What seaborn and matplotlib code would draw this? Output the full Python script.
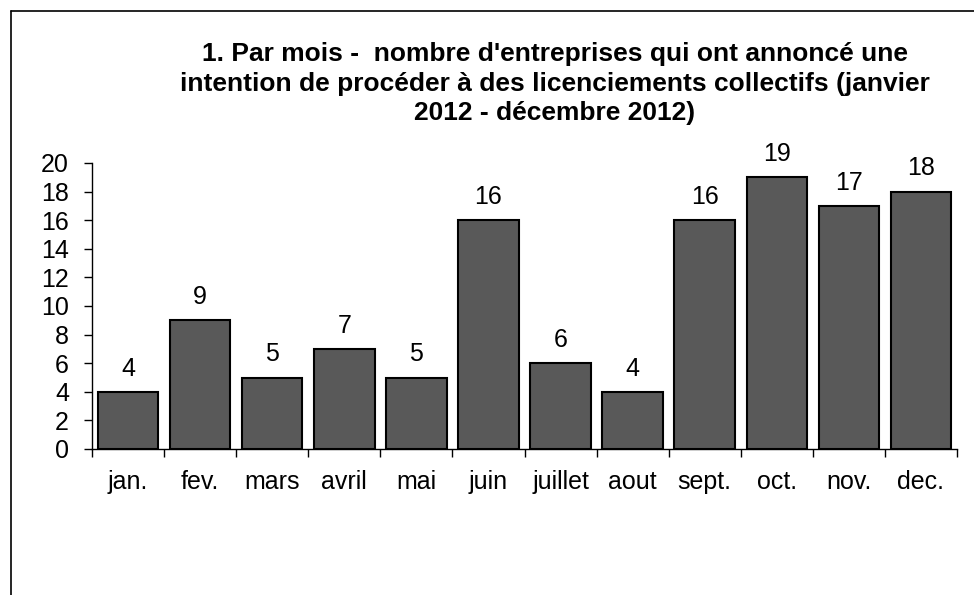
import matplotlib
matplotlib.use("Agg")
import matplotlib.pyplot as plt
import seaborn as sns
import pandas as pd
import numpy as np
from matplotlib.lines import Line2D

months = ["jan.", "fev.", "mars", "avril", "mai", "juin", "juillet", "aout",
          "sept.", "oct.", "nov.", "dec."]
counts = [4, 9, 5, 7, 5, 16, 6, 4, 16, 19, 17, 18]
yticks = list(range(0, 21, 2))
title = ("1. Par mois -  nombre d'entreprises qui ont annoncé une\n"
         "intention de procéder à des licenciements collectifs (janvier\n"
         "2012 - décembre 2012)")

sns.set_style("white")
plt.rcParams['font.family'] = ['Liberation Sans', 'DejaVu Sans']

df = pd.DataFrame({"mois": months, "n": counts})

W, H = 974, 595
FS = 18
fig = plt.figure(figsize=(W / 100, H / 100), dpi=100)
ax = fig.add_axes([92 / W, 1 - 449 / H, (957 - 92) / W, (449 - 163) / H])

sns.barplot(data=df, x="mois", y="n", color="#595959", saturation=1,
            edgecolor="black", linewidth=1.5, width=0.84, ax=ax)

for i, v in enumerate(counts):
    ax.annotate(str(v), (i, v), xytext=(0, 8), textcoords="offset points",
                ha="center", va="bottom", fontsize=FS, color="black")

ax.set_xlim(-0.5, len(months) - 0.5)
ax.set_ylim(0, 20)
ax.set_yticks(yticks)
ax.set_yticklabels([str(t) for t in yticks], fontsize=FS)
ax.set_xticks(range(len(months)))
ax.set_xticklabels(months, fontsize=FS)
ax.set_xticks(np.arange(-0.5, len(months), 1), minor=True)
ax.tick_params(axis="x", which="major", bottom=True, length=0, pad=15,
               labelcolor="black")
ax.tick_params(axis="x", which="minor", bottom=True, length=5.5, width=1,
               color="black", direction="out")
ax.tick_params(axis="y", which="major", left=True, length=5.5, width=1,
               color="black", direction="out", pad=11, labelcolor="black")
ax.set_xlabel("")
ax.set_ylabel("")
for s in ["top", "right"]:
    ax.spines[s].set_visible(False)
for s in ["left", "bottom"]:
    ax.spines[s].set_color("black")
    ax.spines[s].set_linewidth(1)

fig.text(555 / W, 1 - 42 / H, title, ha="center", va="top", fontsize=19,
         fontweight="bold", linespacing=1.3, color="black")

# outer frame (top and left edges)
fig.add_artist(Line2D([11 / W, 1.0], [1 - 10.5 / H, 1 - 10.5 / H],
                      transform=fig.transFigure, color="black", lw=1.2))
fig.add_artist(Line2D([11 / W, 11 / W], [1 - 10.5 / H, 0.0],
                      transform=fig.transFigure, color="black", lw=1.2))

fig.savefig("out.png", dpi=100)
